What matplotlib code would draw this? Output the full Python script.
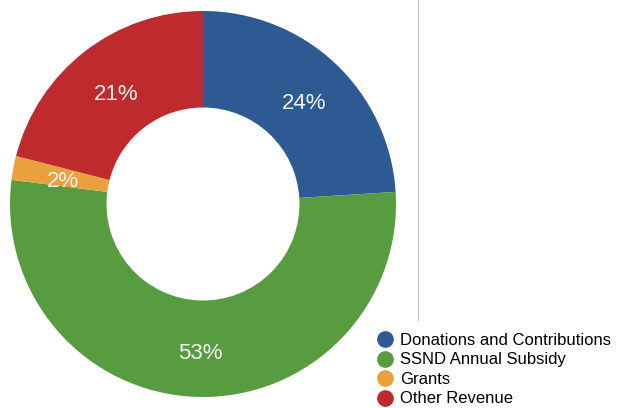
import matplotlib
matplotlib.use('Agg')
import matplotlib.pyplot as plt
from matplotlib.lines import Line2D
import numpy as np

plt.rcParams['font.family'] = ['Liberation Sans', 'DejaVu Sans']

# data
categories = ['Donations and Contributions', 'SSND Annual Subsidy', 'Grants', 'Other Revenue']
values = [24, 53, 2, 21]
labels = ['24%', '53%', '2%', '21%']
colors = ['#2d5a92', '#589c40', '#e9a23b', '#bf2a2e']

W, H = 620, 408
fig = plt.figure(figsize=(W / 100, H / 100), dpi=100)

# donut axes: center (203, 204) px, radius 193 px
cx, cy, r = 203, 204, 193
ax = fig.add_axes([(cx - r) / W, (H - cy - r) / H, 2 * r / W, 2 * r / H])
wedges, texts = ax.pie(values, colors=colors, startangle=90, counterclock=False,
                       radius=1.0, wedgeprops=dict(width=0.5, linewidth=0))
ax.set_xlim(-1, 1)
ax.set_ylim(-1, 1)
ax.set_aspect('equal')
ax.axis('off')

ang0 = 90
for v, lab in zip(values, labels):
    mid = ang0 - v / sum(values) * 360 / 2
    ang0 -= v / sum(values) * 360
    t = np.deg2rad(mid)
    ax.text(0.75 * np.cos(t) + 0.01, 0.75 * np.sin(t) - 0.025, lab,
            ha='center', va='center', fontsize=16, color='#f2f2f2')

# vertical separator
fig.add_artist(Line2D([418 / W, 418 / W], [1, (H - 320) / H], color='#bdbdbd', lw=0.8))

handles = [Line2D([], [], marker='o', ls='', color=c, markersize=11) for c in colors]
fig.legend(handles, categories, loc='lower left', bbox_to_anchor=(368 / W, -5 / H),
           frameon=False, fontsize=12, handletextpad=0.3, labelspacing=0.27,
           borderaxespad=0.0, handlelength=1.2)

fig.savefig('out.png', dpi=100)
